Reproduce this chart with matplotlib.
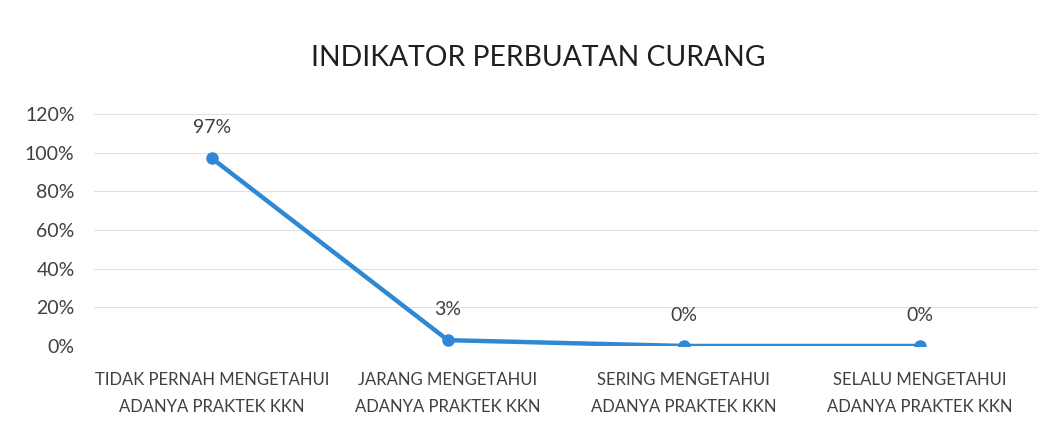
import matplotlib
matplotlib.use("Agg")
import matplotlib.pyplot as plt
from matplotlib.ticker import PercentFormatter, MultipleLocator

categories = ["TIDAK PERNAH MENGETAHUI\nADANYA PRAKTEK KKN",
              "JARANG MENGETAHUI\nADANYA PRAKTEK KKN",
              "SERING MENGETAHUI\nADANYA PRAKTEK KKN",
              "SELALU MENGETAHUI\nADANYA PRAKTEK KKN"]
values = [0.97, 0.03, 0.0, 0.0]
value_labels = ["97%", "3%", "0%", "0%"]
title = "INDIKATOR PERBUATAN CURANG"

plt.rcParams['font.family'] = ['Lato', 'DejaVu Sans']

fig = plt.figure(figsize=(10.61, 4.33), dpi=100)
ax = fig.add_axes([0.0886, 0.201, 0.8894, 0.536])

x = list(range(len(categories)))
color = "#2F88D4"
ax.plot(x, values, color=color, lw=3.2, marker="o", markersize=8,
        markerfacecolor=color, markeredgecolor=color, zorder=3, solid_capstyle="round")

for xi, v, lab in zip(x, values, value_labels):
    ax.annotate(lab, (xi, v), xytext=(0, 16), textcoords="offset points",
                ha="center", va="bottom", fontsize=14, color="#404040")

ax.set_xlim(-0.5, len(categories) - 0.5)
ax.set_ylim(0, 1.2)
ax.yaxis.set_major_locator(MultipleLocator(0.2))
ax.yaxis.set_major_formatter(PercentFormatter(1.0, decimals=0))
ax.set_xticks(x)
ax.set_xticklabels(categories, fontsize=12, color="#404040", linespacing=1.85)
ax.tick_params(axis="y", labelsize=14, labelcolor="#404040", length=0, pad=14)
ax.tick_params(axis="x", length=0, pad=19)
ax.grid(axis="y", color="#E0E0E0", lw=0.8)
ax.set_axisbelow(True)
for s in ax.spines.values():
    s.set_visible(False)

fig.text(0.5075, 0.866, title, ha="center", va="center", fontsize=20.3, color="#1F1F1F")

fig.savefig("out.png", dpi=100)
